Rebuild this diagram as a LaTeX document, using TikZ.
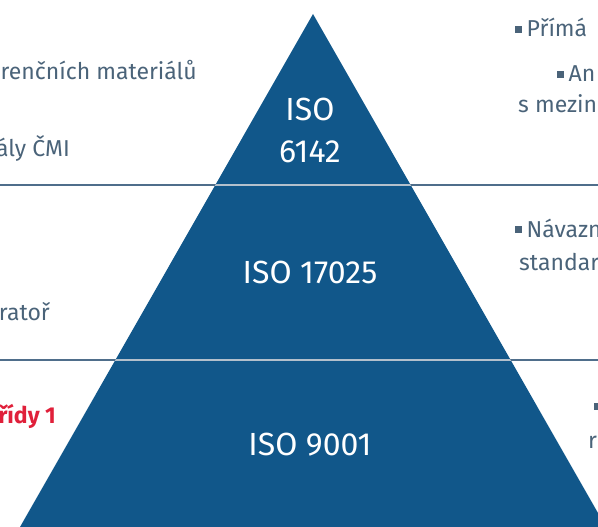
\documentclass[tikz,border=0pt]{standalone}
\usepackage{fontspec}
\setmainfont{Fira Sans}
\usepackage{tikz}
\definecolor{pyr}{HTML}{11578A}
\definecolor{txt}{HTML}{4A6379}
\definecolor{sep}{HTML}{4F6E8B}
\definecolor{sepin}{HTML}{B3C0CC}
\definecolor{hl}{HTML}{E0203A}
\tikzset{
  tier/.style={text=white, font=\fontsize{32}{38}\selectfont, align=center, anchor=base},
  lt/.style={text=txt, font=\fontsize{23}{28}\selectfont, anchor=base east, inner sep=0pt},
  rt/.style={text=txt, font=\fontsize{23}{28}\selectfont, anchor=base west, inner sep=0pt},
  red/.style={text=hl, font=\fontsize{23}{28}\selectfont\bfseries, anchor=base east, inner sep=0pt},
  sepline/.style={draw=sep, line width=1.6pt},
  sepinline/.style={draw=sepin, line width=1.6pt}
}
\newcommand{\sqb}{\textcolor{txt}{\rule[0.18em]{0.28em}{0.28em}}\hspace{0.22em}}
\begin{document}
\begin{tikzpicture}[x=1pt, y=-1pt]
  \useasboundingbox (0,0) rectangle (598,527);
  \clip (0,0) rectangle (598,527);

  % pyramid
  \coordinate (apex) at (313,14);
  \coordinate (bl) at (20,527);
  \coordinate (br) at (606,527);
  \fill[pyr] (apex) -- (br) -- (bl) -- cycle;

  % separators
  \draw[sepline] (0,185) -- (598,185);
  \draw[sepline] (0,360) -- (598,360);
  \begin{scope}
    \clip (apex) -- (br) -- (bl) -- cycle;
    \draw[sepinline] (0,185) -- (598,185);
    \draw[sepinline] (0,360) -- (598,360);
  \end{scope}

  % tier labels
  \node[tier] (t1) at (310,121) {ISO};
  \node[tier] (t1b) at (310,162) {6142};
  \node[tier] (t2) at (310,283) {ISO 17025};
  \node[tier] (t3) at (310,455) {ISO 9001};

  % left texts
  \node[lt] (l1) at (197,80) {renčních materiálů};
  \node[lt] (l2) at (70,157) {ály ČMI};
  \node[lt] (l3) at (50,320) {ratoř};
  \node[red] (l4) at (56,423) {řídy 1};

  % right texts
  \node[rt] (r1) at (515,37) {\sqb Přímá};
  \node[rt] (r2) at (557,82) {\sqb An};
  \node[rt] (r3) at (518,113) {s mezin};
  \node[rt] (r4) at (515,237) {\sqb Návazn};
  \node[rt] (r5) at (519,270) {standar};
  \node[rt] (r6) at (594,414) {\sqb};
  \node[rt] (r7) at (588,448) {r};
\end{tikzpicture}
\end{document}
